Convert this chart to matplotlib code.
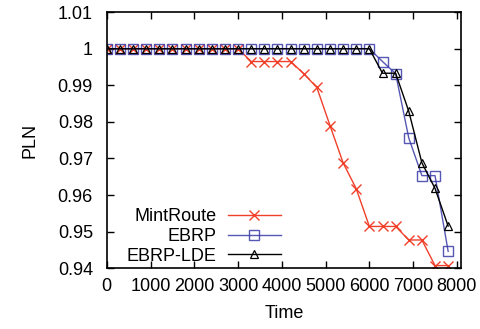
import matplotlib
matplotlib.use('Agg')
import matplotlib.pyplot as plt
import numpy as np

plt.rcParams['font.family'] = ['Liberation Sans', 'DejaVu Sans']

# 时间点，每300一个采样
time = np.arange(0, 8100, 300)

mintroute = [1, 1, 1, 1, 1, 1, 1, 1, 1, 1, 1, 0.9965, 0.9965, 0.9965, 0.9965,
             0.9932, 0.9894, 0.979, 0.9688, 0.9617, 0.9514, 0.9514, 0.9514,
             0.9477, 0.9477, 0.9407, 0.9407]
ebrp = [1, 1, 1, 1, 1, 1, 1, 1, 1, 1, 1, 1, 1, 1, 1, 1, 1, 1, 1, 1, 1,
        0.9965, 0.9932, 0.9756, 0.9653, 0.9653, 0.9446]
ebrp_lde = [1, 1, 1, 1, 1, 1, 1, 1, 1, 1, 1, 1, 1, 1, 1, 1, 1, 1, 1, 1, 1,
            0.9933, 0.9933, 0.9829, 0.9688, 0.9618, 0.9515]

fig = plt.figure(figsize=(4.81, 3.29), dpi=100)
ax = fig.add_axes([0.222, 0.185, 0.737, 0.778])

ax.plot(time, mintroute, color='#f0402a', lw=1, marker='x', ms=7, mew=1,
        label='MintRoute')
ax.plot(time, ebrp, color='#3a3aa8', lw=1, marker='s', ms=7, mew=1,
        mfc='none', alpha=0.85, label='EBRP')
ax.plot(time, ebrp_lde, color='black', lw=1, marker='^', ms=6, mew=0.9,
        mfc='none', label='EBRP-LDE')

ax.set_xlim(0, 8100)
ax.set_ylim(0.94, 1.01)
ax.set_xticks(np.arange(0, 8001, 1000))
ax.set_xticklabels([str(v) for v in range(0, 8001, 1000)])
yt = [0.94, 0.95, 0.96, 0.97, 0.98, 0.99, 1.0, 1.01]
ax.set_yticks(yt)
ax.set_yticklabels(['0.94', '0.95', '0.96', '0.97', '0.98', '0.99', '1', '1.01'])
ax.tick_params(axis='both', direction='in', top=True, right=True, length=5,
               width=1, labelsize=13)
ax.tick_params(axis='y', pad=10)
ax.tick_params(axis='x', pad=7)
for s in ax.spines.values():
    s.set_linewidth(1.2)

ax.set_xlabel('Time', fontsize=13, labelpad=7)
ax.set_ylabel('PLN', fontsize=13, labelpad=14)

leg = ax.legend(loc='lower left', bbox_to_anchor=(0.01, -0.05), frameon=False,
                fontsize=13, markerfirst=False, handlelength=2.9,
                handletextpad=0.65, labelspacing=0.15)
# 文字右对齐
for col in leg._legend_handle_box.get_children():
    col.align = 'right'

fig.savefig('out.png', dpi=100)
